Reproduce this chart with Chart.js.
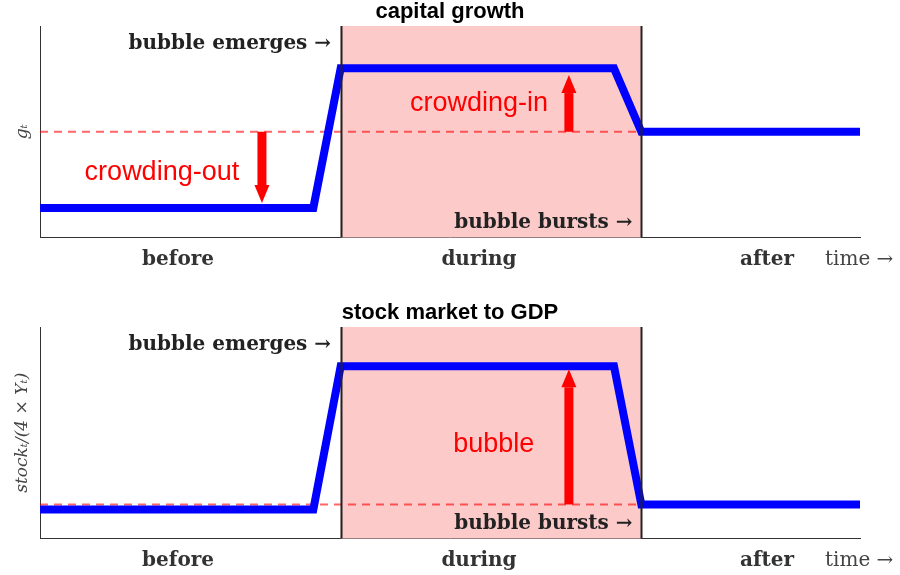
<!DOCTYPE html>
<html>
<head>
<meta charset="utf-8">
<script src="https://cdn.jsdelivr.net/npm/chart.js@4.4.1/dist/chart.umd.min.js"></script>
<style>
  html, body { margin: 0; padding: 0; background: #fff; }
  .panel { position: absolute; left: 0; width: 900px; height: 274px; }
  #top-panel { top: 0; }
  #bottom-panel { top: 301px; }
</style>
</head>
<body>
<div class="panel" id="top-panel"><canvas id="growth-chart"></canvas></div>
<div class="panel" id="bottom-panel"><canvas id="stock-chart"></canvas></div>
<script>
// ── data ──
const timeX = [0, 10, 11, 21, 22, 30];
const growthY = [0.14, 0.14, 0.8, 0.8, 0.5, 0.5];
const growthSteady = 0.5;
const stockY = [0.137, 0.137, 0.815, 0.815, 0.161, 0.161];
const stockSteady = 0.161;

const phaseLabels = ["before", "during", "after"];
const phaseTicks = [5.05, 16.06, 26.6];
const bubbleStart = 11;
const bubbleEnd = 22;

// arrows : x, from y, to y
const growthArrows = [
  { x: 8.12, from: 0.5, to: 0.163 },
  { x: 19.35, from: 0.5, to: 0.768 },
];
const stockArrows = [{ x: 19.35, from: 0.161, to: 0.8 }];

const growthNotes = [{ text: "crowding-out", x: 4.46, y: 0.305 }, { text: "crowding-in", x: 16.06, y: 0.635 }];
const stockNotes = [{ text: "bubble", x: 16.6, y: 0.445 }];

const SERIF = "'DejaVu Serif', serif";
const SANS = "'Liberation Sans', Arial, sans-serif";

// plugin : zone bulle, lignes verticales, fleches, textes
const bubblePlugin = {
  id: "bubbleDecor",
  beforeDatasetsDraw(chart) {
    const { ctx, chartArea: a, scales: { x } } = chart;
    ctx.save();
    ctx.fillStyle = "#fdcaca";
    const x0 = x.getPixelForValue(bubbleStart);
    const x1 = x.getPixelForValue(bubbleEnd);
    ctx.fillRect(x0, a.top, x1 - x0, a.bottom - a.top);
    ctx.restore();
  },
  afterDatasetsDraw(chart) {
    const { ctx, chartArea: a, scales: { x, y } } = chart;
    const cfg = chart.options.plugins.bubbleDecor;
    ctx.save();

    // lignes debut / fin de bulle
    ctx.strokeStyle = "#222";
    ctx.lineWidth = 2;
    for (const v of [bubbleStart, bubbleEnd]) {
      const px = Math.round(x.getPixelForValue(v)) + 0.5;
      ctx.beginPath();
      ctx.moveTo(px, a.top);
      ctx.lineTo(px, a.bottom);
      ctx.stroke();
    }

    // fleches rouges
    ctx.fillStyle = "#ff0000";
    for (const arr of cfg.arrows) {
      const px = x.getPixelForValue(arr.x);
      const y0 = y.getPixelForValue(arr.from);
      const y1 = y.getPixelForValue(arr.to);
      const dir = y1 > y0 ? 1 : -1;
      const headLen = 18, headW = 7.5, shaftW = 4.5;
      const yh = y1 - dir * headLen;
      ctx.fillRect(px - shaftW, Math.min(y0, yh), shaftW * 2, Math.abs(yh - y0));
      ctx.beginPath();
      ctx.moveTo(px - headW, yh);
      ctx.lineTo(px + headW, yh);
      ctx.lineTo(px, y1);
      ctx.closePath();
      ctx.fill();
    }

    // annotations rouges
    ctx.font = "27px " + SANS;
    ctx.textAlign = "center";
    ctx.textBaseline = "middle";
    for (const n of cfg.notes) {
      ctx.fillText(n.text, x.getPixelForValue(n.x), y.getPixelForValue(n.y));
    }

    // marqueurs de bulle
    ctx.fillStyle = "#222";
    ctx.font = "bold 20px " + SERIF;
    ctx.textAlign = "right";
    ctx.fillText("bubble emerges \u2192", x.getPixelForValue(10.65), y.getPixelForValue(cfg.emergeY));
    ctx.fillText("bubble bursts \u2192", x.getPixelForValue(21.68), y.getPixelForValue(cfg.burstY));

    // fleche du temps
    ctx.fillStyle = "#444";
    ctx.font = "20px " + SERIF;
    ctx.textAlign = "left";
    ctx.fillText("time \u2192", x.getPixelForValue(28.72), a.bottom + 22);
    ctx.restore();
  },
};

function makeChart(canvasId, title, yTitle, values, steady, decor) {
  return new Chart(document.getElementById(canvasId), {
    type: "line",
    data: {
      datasets: [
        {
          data: timeX.map((t, i) => ({ x: t, y: values[i] })),
          borderColor: "#0000ff",
          borderWidth: 8,
          pointRadius: 0,
          tension: 0,
          fill: false,
        },
        {
          data: [{ x: timeX[0], y: steady }, { x: timeX[timeX.length - 1], y: steady }],
          borderColor: "rgba(255, 0, 0, 0.6)",
          borderWidth: 2,
          borderDash: [8, 6],
          pointRadius: 0,
          fill: false,
        },
      ],
    },
    options: {
      responsive: true,
      maintainAspectRatio: false,
      animation: false,
      layout: { padding: 0 },
      plugins: {
        legend: { display: false },
        tooltip: { enabled: false },
        title: {
          display: true,
          text: title,
          color: "#000",
          font: { family: SANS, size: 22, weight: "bold", lineHeight: 1.0 },
          padding: { top: 1, bottom: 3 },
        },
        bubbleDecor: decor,
      },
      scales: {
        x: {
          type: "linear",
          min: 0,
          max: 30,
          grid: { display: false, drawTicks: false },
          border: { display: true, color: "#333", width: 1 },
          afterBuildTicks: (scale) => {
            scale.ticks = phaseTicks.map((v) => ({ value: v }));
          },
          afterFit: (scale) => {
            scale.height = 36.5;
          },
          ticks: {
            autoSkip: false,
            maxRotation: 0,
            padding: 10,
            color: "#333",
            font: { family: SERIF, size: 20, weight: "bold" },
            callback: (val, i) => phaseLabels[i],
          },
        },
        y: {
          min: 0,
          max: 1,
          grid: { display: false, drawTicks: false },
          border: { display: true, color: "#333", width: 1 },
          ticks: { display: false },
          afterFit: (scale) => {
            scale.width = 40;
          },
          title: {
            display: true,
            text: yTitle,
            color: "#444",
            font: { family: SERIF, size: 17, style: "italic" },
            padding: { top: 12, bottom: 0 },
          },
        },
        // axe vide a droite pour garder le titre centre
        yRight: {
          position: "right",
          min: 0,
          max: 1,
          grid: { display: false, drawTicks: false },
          border: { display: false },
          ticks: { display: false },
          afterFit: (scale) => {
            scale.width = 40;
          },
        },
      },
    },
    plugins: [bubblePlugin],
  });
}

makeChart("growth-chart", "capital growth", "g\u209C", growthY, growthSteady, {
  arrows: growthArrows,
  notes: growthNotes,
  emergeY: 0.915,
  burstY: 0.069,
});
makeChart("stock-chart", "stock market to GDP", "stock\u209C/(4 \u00D7 Y\u209C)", stockY, stockSteady, {
  arrows: stockArrows,
  notes: stockNotes,
  emergeY: 0.915,
  burstY: 0.069,
});
</script>
</body>
</html>
